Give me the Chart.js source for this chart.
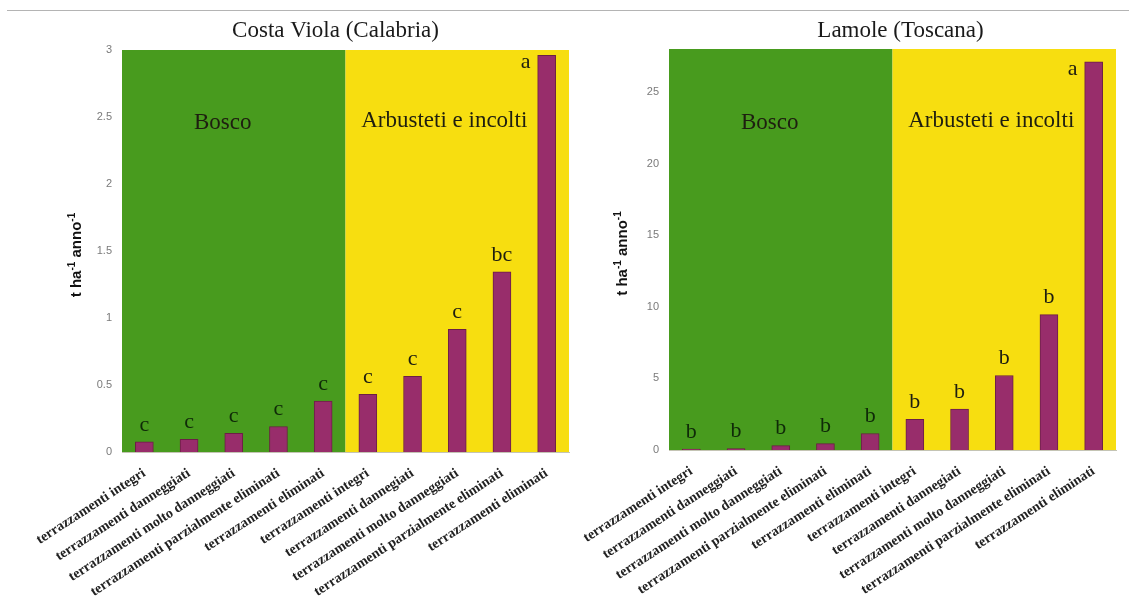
<!DOCTYPE html>
<html><head><meta charset="utf-8">
<script src="https://cdn.jsdelivr.net/npm/chart.js@4/dist/chart.umd.min.js"></script>
<style>
html,body{margin:0;padding:0;background:#fff;width:1129px;height:601px;overflow:hidden;}
#topline{position:absolute;left:7px;top:10px;width:1122px;height:0;border-top:1px solid #b4b4b4;}
canvas{position:absolute;top:0;}
</style></head><body>
<div id="topline"></div>
<canvas id="c1" width="575" height="601" style="left:0px"></canvas>
<canvas id="c2" width="589" height="601" style="left:540px"></canvas>
<script>
// ---- data ----
const categories = [
  'terrazzamenti integri',
  'terrazzamenti danneggiati',
  'terrazzamenti molto danneggiati',
  'terrazzamenti parzialmente eliminati',
  'terrazzamenti eliminati',
  'terrazzamenti integri',
  'terrazzamenti dannegiati',
  'terrazzamenti molto danneggiati',
  'terrazzamenti parzialmente eliminati',
  'terrazzamenti eliminati'
];
const costaViolaValues  = [0.075, 0.095, 0.14, 0.19, 0.38, 0.43, 0.565, 0.915, 1.345, 2.96];
const costaViolaLetters = ['c', 'c', 'c', 'c', 'c', 'c', 'c', 'c', 'bc', 'a'];
const costaViolaTicks   = [0, 0.5, 1, 1.5, 2, 2.5, 3];
const lamoleValues  = [0.07, 0.1, 0.3, 0.45, 1.15, 2.15, 2.85, 5.2, 9.45, 27.1];
const lamoleLetters = ['b', 'b', 'b', 'b', 'b', 'b', 'b', 'b', 'b', 'a'];
const lamoleTicks   = [0, 5, 10, 15, 20, 25];
const zoneNames = ['Bosco', 'Arbusteti e incolti'];
const chartTitles = ['Costa Viola (Calabria)', 'Lamole (Toscana)'];

// ---- styles ----
const GREEN = '#489b1e';
const YELLOW = '#f7de10';
const BAR = '#982d6b';
const BAR_BORDER = '#6c1f45';
const SERIF = '"Liberation Serif", "Times New Roman", serif';
const SANS = '"Liberation Sans", Arial, sans-serif';

const overlay = {
  id: 'overlay',
  beforeDraw(chart, args, o) {
    const {ctx, chartArea: a, scales: {x}} = chart;
    const split = (x.getPixelForValue(4) + x.getPixelForValue(5)) / 2;
    ctx.save();
    ctx.fillStyle = GREEN;
    ctx.fillRect(a.left, a.top, split - a.left, a.bottom - a.top);
    ctx.fillStyle = YELLOW;
    ctx.fillRect(split, a.top, a.right - split, a.bottom - a.top);
    ctx.restore();
  },
  afterDatasetsDraw(chart, args, o) {
    const {ctx, chartArea: a, scales: {x}} = chart;
    const split = (x.getPixelForValue(4) + x.getPixelForValue(5)) / 2;
    ctx.save();
    // title
    ctx.fillStyle = '#1a1a1a';
    ctx.font = '23px ' + SERIF;
    ctx.textAlign = 'center';
    ctx.textBaseline = 'middle';
    ctx.fillText(o.title, (a.left + a.right) / 2 + o.titleDx, 31);
    // zone labels
    ctx.fillStyle = '#1e1e10';
    ctx.fillText(o.zones[0], (a.left + split) / 2 - 11, 123);
    ctx.fillText(o.zones[1], (split + a.right) / 2 - 13, 121);
    // letters
    ctx.font = '22px ' + SERIF;
    const meta = chart.getDatasetMeta(0);
    meta.data.forEach((bar, i) => {
      const last = i === meta.data.length - 1;
      ctx.fillStyle = x.getPixelForValue(i) < split ? '#0f2a08' : '#1e1e10';
      if (last) ctx.fillText(o.letters[i], bar.x - 21, bar.y + 7);
      else ctx.fillText(o.letters[i], bar.x, bar.y - 17);
    });
    // y title with superscripts
    ctx.fillStyle = '#111';
    ctx.translate(o.yTitleX, (a.top + a.bottom) / 2 + 4);
    ctx.rotate(-Math.PI / 2);
    const parts = [['t ha', false], ['-1', true], [' anno', false], ['-1', true]];
    const fMain = 'bold 15px ' + SANS, fSup = 'bold 10px ' + SANS;
    let total = 0;
    parts.forEach(p => { ctx.font = p[1] ? fSup : fMain; total += ctx.measureText(p[0]).width; });
    let cx = -total / 2;
    ctx.textAlign = 'left';
    ctx.textBaseline = 'alphabetic';
    parts.forEach(p => {
      ctx.font = p[1] ? fSup : fMain;
      ctx.fillText(p[0], cx, p[1] ? -1 : 5);
      cx += ctx.measureText(p[0]).width;
    });
    ctx.restore();
  }
};

function makeChart(id, values, letters, ticks, maxY, title, opts) {
  return new Chart(document.getElementById(id), {
    type: 'bar',
    data: {
      labels: categories,
      datasets: [{
        data: values,
        backgroundColor: BAR,
        borderColor: BAR_BORDER,
        borderWidth: 1,
        barThickness: 18
      }]
    },
    options: {
      responsive: false,
      animation: false,
      devicePixelRatio: 1,
      layout: { padding: { top: opts.top, right: opts.right, left: 0, bottom: 0 } },
      plugins: {
        legend: { display: false },
        tooltip: { enabled: false },
        overlay: { title: title, titleDx: opts.titleDx, zones: zoneNames, letters: letters, yTitleX: opts.yTitleX }
      },
      scales: {
        x: {
          grid: { display: false, drawTicks: false },
          border: { display: true, color: '#c4c4b4', width: 1 },
          ticks: {
            autoSkip: false,
            maxRotation: 33,
            minRotation: 33,
            padding: 13,
            color: '#222',
            font: { family: SERIF, size: 14, weight: 'bold' }
          },
          afterFit: s => { s.height = opts.xh; }
        },
        y: {
          min: 0,
          max: maxY,
          grid: { display: false, drawTicks: false },
          border: { display: false },
          afterBuildTicks: s => { s.ticks = ticks.map(v => ({ value: v })); },
          ticks: {
            padding: 10,
            color: '#7a7a7a',
            font: { family: SANS, size: 11 },
            callback: v => String(v)
          },
          afterFit: s => { s.width = opts.yw; }
        }
      }
    },
    plugins: [overlay]
  });
}

makeChart('c1', costaViolaValues, costaViolaLetters, costaViolaTicks, 3, chartTitles[0],
  { top: 50, right: 6, xh: 149, yw: 122, titleDx: -10, yTitleX: 76 });
makeChart('c2', lamoleValues, lamoleLetters, lamoleTicks, 28, chartTitles[1],
  { top: 49, right: 13, xh: 151, yw: 129, titleDx: 8, yTitleX: 82 });
</script>
</body></html>
